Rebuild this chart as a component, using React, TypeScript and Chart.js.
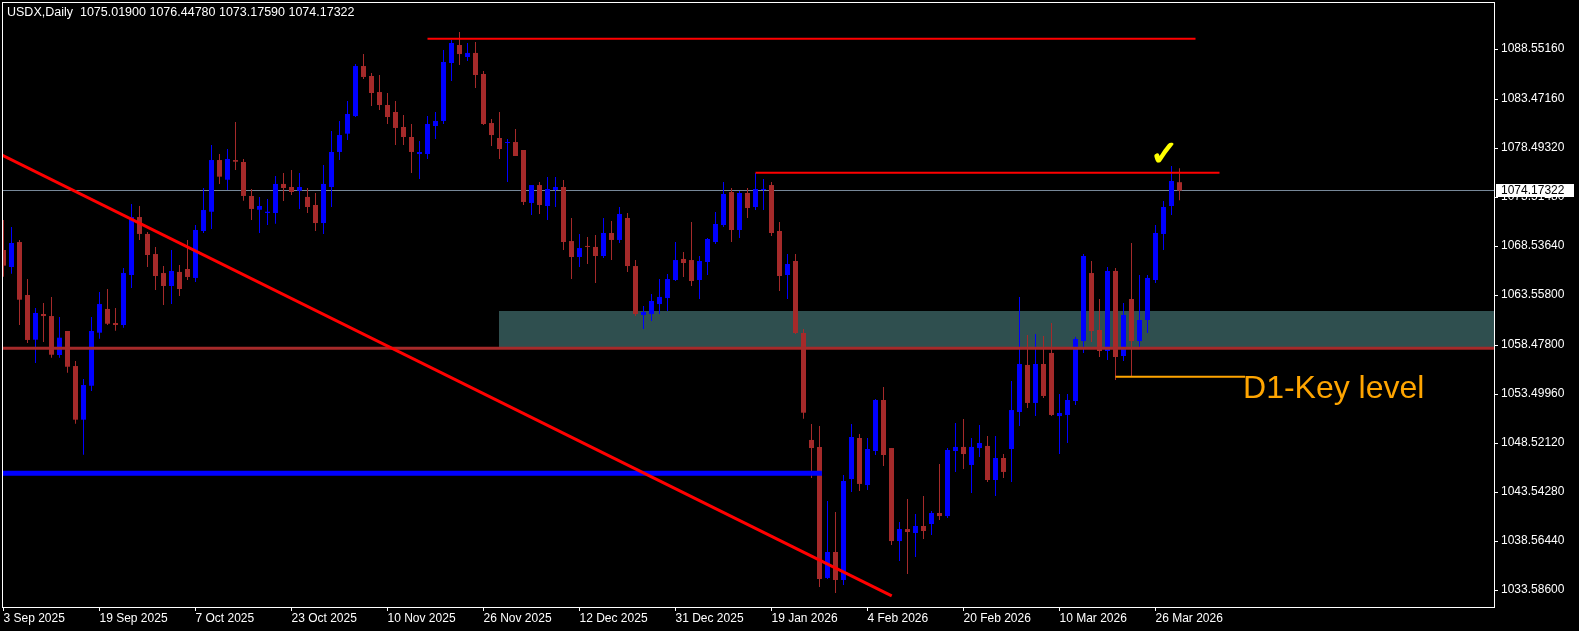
import React, { useEffect, useRef } from "react";
import { Chart, registerables } from "chart.js";

Chart.register(...registerables);

// ---- Daily OHLC (bar index 0 = 3 Sep 2025) ----
const opens = [
  1068.13, 1066.40, 1068.94, 1063.56, 1059.02, 1061.63, 1061.42, 1057.46, 1059.90, 1056.34,
  1050.89, 1054.34, 1059.73, 1062.14, 1060.71, 1060.51, 1065.59, 1071.48, 1069.76, 1067.72,
  1065.79, 1064.47, 1065.90, 1066.20, 1065.29, 1070.06, 1072.02, 1077.27, 1075.27, 1077.27,
  1077.07, 1073.62, 1072.22, 1071.89, 1071.89, 1074.84, 1074.53, 1074.16, 1073.52, 1072.70,
  1070.87, 1074.53, 1078.09, 1079.95, 1081.74, 1086.82, 1085.81, 1084.18, 1082.86, 1082.15,
  1080.63, 1079.61, 1077.88, 1077.88, 1080.73, 1081.24, 1087.13, 1088.96, 1087.74, 1088.15,
  1086.01, 1081.03, 1079.51, 1079.00, 1079.10, 1078.29, 1072.91, 1074.73, 1072.60, 1074.23,
  1074.53, 1069.04, 1067.42, 1068.54, 1068.44, 1067.52, 1069.86, 1069.15, 1071.38, 1066.50,
  1061.53, 1061.63, 1062.64, 1063.25, 1065.08, 1067.22, 1067.11, 1065.08, 1066.91, 1068.94,
  1070.67, 1074.02, 1070.16, 1073.92, 1072.50, 1074.23, 1074.73, 1070.06, 1065.59, 1067.01,
  1059.70, 1048.83, 1048.12, 1034.81, 1037.45, 1034.60, 1044.86, 1049.03, 1044.25, 1047.71,
  1052.89, 1048.01, 1038.56, 1039.78, 1039.38, 1040.09, 1040.29, 1041.41, 1041.10, 1047.71,
  1048.12, 1046.29, 1048.01, 1048.22, 1044.76, 1047.00, 1047.91, 1051.67, 1056.45, 1052.59,
  1056.55, 1057.67, 1051.26, 1051.37, 1052.79, 1058.88, 1065.79, 1060.00, 1057.87, 1066.00,
  1057.36, 1063.15, 1058.88, 1061.02, 1065.08, 1069.76, 1072.60, 1075.019,
];
const highs = [
  1071.18, 1070.47, 1069.15, 1065.18, 1062.24, 1062.75, 1063.36, 1061.32, 1059.90, 1056.85,
  1055.02, 1061.32, 1063.86, 1064.17, 1062.24, 1066.30, 1072.80, 1072.60, 1069.96, 1068.44,
  1066.50, 1068.13, 1066.61, 1069.15, 1070.67, 1074.43, 1078.80, 1077.88, 1078.39, 1081.14,
  1077.38, 1074.33, 1073.52, 1073.31, 1075.65, 1075.95, 1076.26, 1075.95, 1074.43, 1073.92,
  1076.77, 1080.22, 1081.24, 1083.27, 1087.03, 1088.04, 1086.11, 1085.91, 1084.08, 1083.27,
  1081.85, 1080.93, 1079.20, 1081.74, 1082.15, 1088.45, 1089.47, 1090.28, 1089.16, 1089.26,
  1086.32, 1081.44, 1082.15, 1079.41, 1080.42, 1078.29, 1074.73, 1075.04, 1075.55, 1075.55,
  1075.24, 1071.38, 1069.76, 1069.45, 1069.65, 1071.38, 1071.08, 1072.50, 1071.89, 1067.11,
  1062.44, 1063.66, 1065.18, 1065.69, 1068.94, 1067.93, 1070.98, 1067.52, 1069.35, 1071.99,
  1075.04, 1074.43, 1074.12, 1074.43, 1075.95, 1075.34, 1075.04, 1070.98, 1067.72, 1067.72,
  1060.10, 1050.45, 1050.25, 1042.63, 1041.51, 1045.27, 1050.45, 1049.44, 1049.03, 1052.99,
  1054.21, 1048.01, 1040.50, 1042.83, 1041.31, 1043.14, 1041.61, 1046.39, 1048.01, 1050.55,
  1050.96, 1049.03, 1050.35, 1049.23, 1049.23, 1047.40, 1054.82, 1063.36, 1059.49, 1059.60,
  1059.39, 1060.71, 1053.50, 1053.50, 1059.29, 1067.72, 1067.01, 1063.15, 1066.40, 1066.30,
  1062.75, 1068.84, 1065.59, 1065.59, 1070.67, 1073.11, 1076.66, 1076.4478,
];
const lows = [
  1065.42, 1065.72, 1060.51, 1058.68, 1056.65, 1058.78, 1057.19, 1057.19, 1055.66, 1050.48,
  1047.33, 1053.80, 1059.12, 1060.51, 1059.93, 1060.24, 1064.27, 1069.15, 1066.40, 1064.07,
  1062.54, 1062.64, 1063.46, 1065.08, 1064.88, 1069.86, 1070.26, 1074.84, 1074.23, 1076.26,
  1073.14, 1071.18, 1069.86, 1070.67, 1070.80, 1073.11, 1073.72, 1072.30, 1071.89, 1070.06,
  1069.76, 1072.50, 1077.27, 1079.31, 1081.64, 1085.50, 1082.76, 1082.35, 1080.93, 1078.80,
  1078.80, 1075.95, 1075.34, 1077.38, 1079.41, 1080.93, 1085.30, 1086.93, 1087.33, 1084.59,
  1080.83, 1078.70, 1077.38, 1075.04, 1077.68, 1072.70, 1071.69, 1071.79, 1071.18, 1072.50,
  1068.13, 1065.18, 1066.40, 1066.71, 1064.78, 1067.32, 1067.11, 1068.84, 1065.90, 1061.42,
  1060.10, 1060.92, 1061.63, 1061.93, 1064.98, 1065.39, 1064.47, 1063.15, 1065.59, 1068.74,
  1070.47, 1068.94, 1069.35, 1071.38, 1072.19, 1072.19, 1069.55, 1063.96, 1063.15, 1059.60,
  1050.99, 1044.97, 1033.89, 1034.70, 1033.28, 1034.09, 1043.54, 1043.64, 1043.75, 1047.30,
  1046.18, 1038.16, 1036.53, 1035.21, 1036.94, 1038.77, 1039.17, 1040.70, 1040.90, 1045.58,
  1045.88, 1043.44, 1047.10, 1044.56, 1043.14, 1044.97, 1044.56, 1050.25, 1052.08, 1051.26,
  1053.09, 1051.26, 1047.40, 1048.52, 1052.38, 1057.67, 1058.78, 1057.26, 1056.95, 1054.92,
  1056.85, 1055.23, 1058.28, 1059.70, 1064.78, 1068.13, 1071.69, 1073.1759,
];
const closes = [
  1066.54, 1068.84, 1063.08, 1058.99, 1061.73, 1061.42, 1057.49, 1059.22, 1056.27, 1050.89,
  1054.41, 1059.90, 1062.64, 1060.64, 1060.51, 1065.79, 1071.48, 1069.76, 1067.62, 1065.49,
  1064.47, 1066.00, 1064.17, 1065.39, 1070.16, 1072.19, 1077.27, 1075.58, 1077.38, 1077.10,
  1073.62, 1072.30, 1072.60, 1072.02, 1074.84, 1074.43, 1074.02, 1074.53, 1072.50, 1070.87,
  1074.84, 1078.09, 1079.81, 1081.95, 1086.82, 1085.71, 1084.08, 1082.86, 1081.64, 1080.53,
  1079.61, 1078.09, 1078.09, 1080.93, 1081.24, 1087.23, 1089.16, 1088.04, 1088.15, 1085.91,
  1080.93, 1079.81, 1078.39, 1079.10, 1077.68, 1073.01, 1074.73, 1072.70, 1074.33, 1074.53,
  1068.94, 1067.42, 1068.33, 1068.44, 1067.52, 1069.86, 1069.15, 1071.79, 1066.50, 1061.63,
  1061.83, 1062.95, 1063.36, 1065.18, 1067.11, 1066.81, 1064.98, 1067.01, 1069.25, 1070.77,
  1073.82, 1070.16, 1073.92, 1072.40, 1074.33, 1074.33, 1069.86, 1065.49, 1066.71, 1059.70,
  1051.60, 1048.01, 1034.70, 1037.45, 1034.60, 1044.66, 1049.13, 1044.36, 1047.91, 1052.89,
  1047.30, 1038.56, 1039.78, 1039.48, 1040.09, 1039.58, 1041.41, 1041.10, 1047.81, 1048.12,
  1047.40, 1048.12, 1048.52, 1044.76, 1047.00, 1045.58, 1051.87, 1056.55, 1052.59, 1056.55,
  1053.30, 1051.37, 1051.57, 1052.89, 1059.09, 1067.52, 1059.90, 1057.87, 1066.00, 1057.26,
  1061.53, 1058.88, 1061.02, 1065.29, 1069.86, 1072.50, 1075.14, 1074.17322,
];

// ---- axes ----
const xTickIdx = [0, 12, 24, 36, 48, 60, 72, 84, 96, 108, 120, 132, 144];
const xLabels = [
  "3 Sep 2025", "19 Sep 2025", "7 Oct 2025", "23 Oct 2025", "10 Nov 2025", "26 Nov 2025",
  "12 Dec 2025", "31 Dec 2025", "19 Jan 2026", "4 Feb 2026", "20 Feb 2026", "10 Mar 2026", "26 Mar 2026",
];
const yTicks = [
  1088.5516, 1083.4716, 1078.4932, 1073.5148, 1068.5364, 1063.558,
  1058.478, 1053.4996, 1048.5212, 1043.5428, 1038.5644, 1033.586,
];
const xRange = [-0.1875, 186.3125];
const yRange = [1031.859, 1093.327];

// ---- drawn objects (values in bar index / price) ----
const trendX = [-0.1875, 111.03];
const trendY = [1077.78, 1032.98];
const topResX = [53, 149];
const topResY = 1089.59;
const midResX = [94, 152];
const midResY = 1075.97;
const blueLineX = [-0.1875, 102.3];
const blueLineY = 1045.44;
const keyLineX = [139, 155.2];
const keyLineY = 1055.25;
const brownLineY = 1058.14;
const zoneX = [61.94, 186.3125];
const zoneY = [1058.14, 1061.93];
const keyText = { x: 154.94, y: 1053.09, text: "D1-Key level" };
const checkMark = { x: 143.3, y: 1076.75, text: "\u2713" };
const titleText = "USDX,Daily  1075.01900 1076.44780 1073.17590 1074.17322";

const FONT = "'Liberation Sans', Arial, sans-serif";
const BULL = "#0000FF";
const BEAR = "#A52A2A";

export default function App() {
  const ref = useRef<HTMLCanvasElement | null>(null);

  useEffect(() => {
    document.body.style.margin = "0";
    document.body.style.background = "#000";
    const canvas = ref.current!;
    const idx = opens.map((_, i) => i);
    const colors = idx.map((i) => (closes[i] >= opens[i] ? BULL : BEAR));
    const seg = (xs: number[], ys: number[]) => xs.map((x, k) => ({ x, y: ys[k] }));
    const lastClose = closes[closes.length - 1];

    const lineDs = (data: any[], color: string, width: number) => ({
      type: "line" as const,
      data,
      borderColor: color,
      borderWidth: width,
      pointRadius: 0,
      fill: false,
      tension: 0,
      order: 0,
      borderCapStyle: "butt" as const,
    });

    const overlay = {
      id: "overlay",
      beforeDatasetsDraw(chart: any) {
        const { ctx, chartArea: a, scales } = chart;
        const xs = scales.x, ys = scales.y;
        ctx.save();
        ctx.beginPath();
        ctx.rect(a.left, a.top, a.right - a.left, a.bottom - a.top);
        ctx.clip();
        const zx0 = xs.getPixelForValue(zoneX[0]);
        const zx1 = xs.getPixelForValue(zoneX[1]);
        const zy0 = ys.getPixelForValue(zoneY[1]);
        const zy1 = ys.getPixelForValue(zoneY[0]);
        ctx.fillStyle = "#2F4F4F";
        ctx.fillRect(Math.round(zx0), Math.round(zy0), Math.round(zx1 - zx0), Math.round(zy1 - zy0));
        const py = Math.floor(ys.getPixelForValue(lastClose)) + 0.5;
        ctx.strokeStyle = "#778899";
        ctx.lineWidth = 1;
        ctx.beginPath();
        ctx.moveTo(a.left, py);
        ctx.lineTo(a.right, py);
        ctx.stroke();
        ctx.restore();
      },
      afterDraw(chart: any) {
        const { ctx, chartArea: a, scales } = chart;
        const xs = scales.x, ys = scales.y;
        ctx.save();
        ctx.strokeStyle = "#FFFFFF";
        ctx.lineWidth = 1;
        ctx.strokeRect(a.left + 0.5, a.top + 0.5, a.right - a.left, a.bottom - a.top);
        ctx.fillStyle = "#FFFFFF";
        ctx.font = `12.5px ${FONT}`;
        ctx.textAlign = "left";
        ctx.textBaseline = "middle";
        ctx.fillText(titleText, 7, 13);
        ctx.fillStyle = "#FFA500";
        ctx.font = `32px ${FONT}`;
        ctx.textBaseline = "alphabetic";
        ctx.fillText(keyText.text, xs.getPixelForValue(keyText.x), ys.getPixelForValue(keyText.y));
        ctx.fillStyle = "#FFFF00";
        ctx.strokeStyle = "#FFFF00";
        ctx.lineWidth = 1.5;
        ctx.lineJoin = "round";
        ctx.font = `bold 34px 'DejaVu Sans', sans-serif`;
        const cx = xs.getPixelForValue(checkMark.x);
        const cy = ys.getPixelForValue(checkMark.y);
        ctx.fillText(checkMark.text, cx, cy);
        ctx.strokeText(checkMark.text, cx, cy);
        const py = ys.getPixelForValue(lastClose);
        ctx.fillStyle = "#FFFFFF";
        ctx.fillRect(a.right + 2, Math.round(py - 6.5), 78, 13);
        ctx.fillStyle = "#000000";
        ctx.font = `12px ${FONT}`;
        ctx.textBaseline = "middle";
        ctx.fillText(lastClose.toFixed(5), a.right + 7, py);
        ctx.restore();
      },
    };

    const chart = new Chart(canvas, {
      type: "bar",
      data: {
        datasets: [
          ...([
            lineDs(seg(trendX, trendY), "#FF0000", 3),
            lineDs(seg(topResX, [topResY, topResY]), "#FF0000", 2),
            lineDs(seg(midResX, [midResY, midResY]), "#FF0000", 2),
            lineDs(seg(blueLineX, [blueLineY, blueLineY]), "#0000FF", 5),
            lineDs(seg(keyLineX, [keyLineY, keyLineY]), "#FFA500", 2),
            lineDs(seg(xRange, [brownLineY, brownLineY]), "#A52A2A", 3),
          ] as any[]),
          {
            type: "bar",
            data: idx.map((i) => ({ x: i, y: [lows[i], highs[i]] })) as any,
            backgroundColor: colors,
            borderWidth: 0,
            barThickness: 1,
            grouped: false,
            inflateAmount: 0,
            order: 2,
          } as any,
          {
            type: "bar",
            data: idx.map((i) => ({ x: i, y: [opens[i], closes[i]] })) as any,
            backgroundColor: colors,
            borderWidth: 0,
            barThickness: 5,
            minBarLength: 1,
            grouped: false,
            inflateAmount: 0,
            order: 1,
          } as any,
        ],
      },
      options: {
        responsive: false,
        animation: false,
        events: [],
        layout: { padding: { left: 2, top: 2, right: 0, bottom: 0 } },
        plugins: {
          legend: { display: false },
          tooltip: { enabled: false },
          title: { display: false },
        },
        scales: {
          x: {
            type: "linear",
            min: xRange[0],
            max: xRange[1],
            offset: false,
            bounds: "data",
            grid: { display: true, drawOnChartArea: false, drawTicks: true, tickLength: 4, color: "#FFFFFF", offset: false },
            border: { display: false },
            ticks: {
              autoSkip: false,
              maxRotation: 0,
              minRotation: 0,
              align: "start",
              padding: 0,
              color: "#FFFFFF",
              font: { family: FONT, size: 12 },
              callback: (v: any) => {
                const k = xTickIdx.indexOf(Number(v));
                return k >= 0 ? xLabels[k] : "";
              },
            },
            afterBuildTicks: (s: any) => {
              s.ticks = xTickIdx.map((v) => ({ value: v }));
            },
            afterFit: (s: any) => {
              s.height = 24;
              s.paddingLeft = 0;
              s.paddingRight = 0;
              s.paddingTop = 0;
              s.paddingBottom = 0;
            },
          },
          y: {
            type: "linear",
            position: "right",
            min: yRange[0],
            max: yRange[1],
            beginAtZero: false,
            bounds: "data",
            grid: { display: true, drawOnChartArea: false, drawTicks: true, tickLength: 4, color: "#FFFFFF" },
            border: { display: false },
            ticks: {
              autoSkip: false,
              padding: 3,
              color: "#FFFFFF",
              font: { family: FONT, size: 12 },
              callback: (v: any) => Number(v).toFixed(5),
            },
            afterBuildTicks: (s: any) => {
              s.ticks = yTicks.map((v) => ({ value: v }));
            },
            afterFit: (s: any) => {
              s.width = 85;
              s.paddingLeft = 0;
              s.paddingRight = 0;
              s.paddingTop = 0;
              s.paddingBottom = 0;
            },
          },
        },
      } as any,
      plugins: [overlay],
    });

    return () => chart.destroy();
  }, []);

  return (
    <div style={{ position: "absolute", left: 0, top: 0, width: 1579, height: 631, background: "#000" }}>
      <canvas ref={ref} width={1579} height={631} style={{ display: "block", width: 1579, height: 631 }} />
    </div>
  );
}
